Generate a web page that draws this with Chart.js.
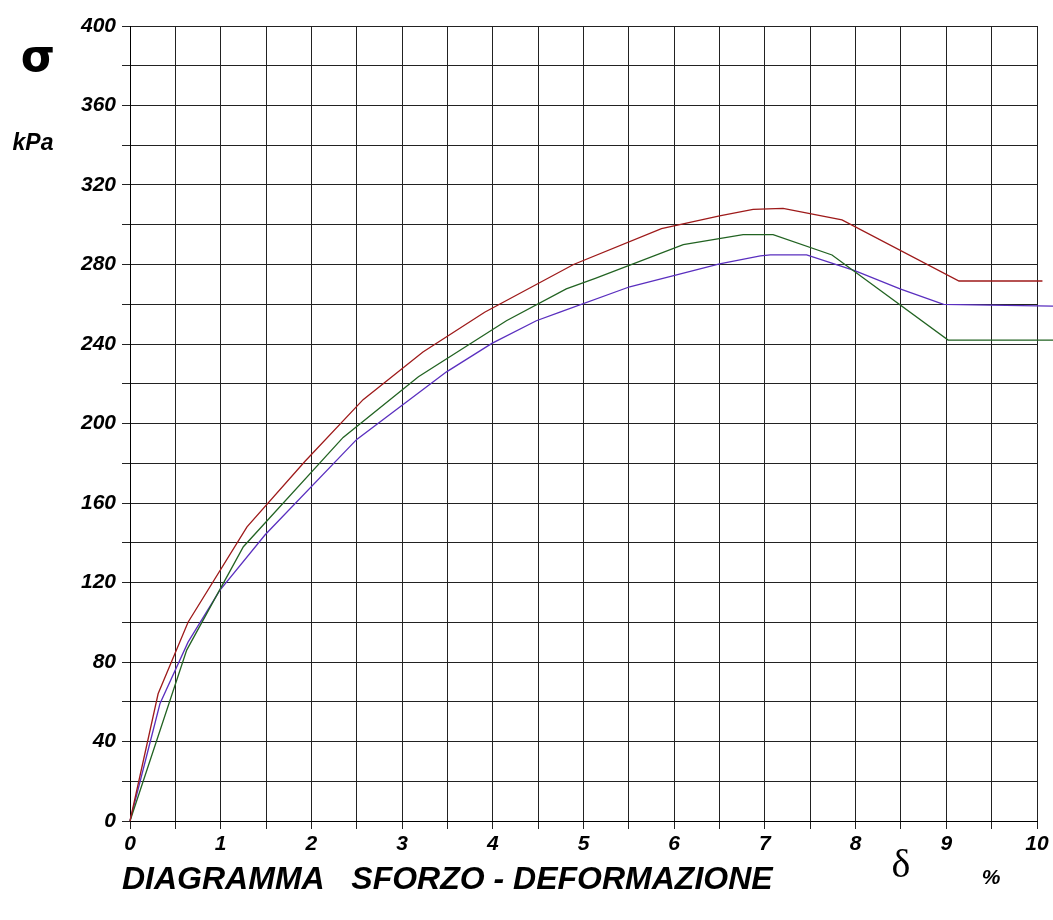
<!DOCTYPE html>
<html>
<head>
<meta charset="utf-8">
<script src="https://cdn.jsdelivr.net/npm/chart.js@4.4.1/dist/chart.umd.min.js"></script>
<style>
  html, body { margin: 0; padding: 0; background: #fff; }
  #wrap { width: 1053px; height: 920px; position: relative; }
</style>
</head>
<body>
<div id="wrap"><canvas id="chart"></canvas></div>
<script>
// curve 1 (red)
const redX = [0, 0.31, 0.64, 1.29, 1.93, 2.57, 3.23, 3.91, 4.89, 5.86, 6.5, 6.87, 7.2, 7.85, 9.14, 10.06];
const redY = [0, 64, 100, 148, 181, 212, 236, 256, 280, 298, 304.5, 307.7, 308.2, 302.4, 271.7, 271.7];
// curve 2 (green)
const greenX = [0, 0.625, 1.25, 2.35, 3.18, 4.15, 4.81, 5.13, 6.1, 6.76, 7.09, 7.74, 9.02, 10.3];
const greenY = [0, 86, 138, 193, 223.5, 251.7, 267.7, 273, 290, 295, 295, 284.8, 242, 242];
// curve 3 (purple)
const purpleX = [0, 0.33, 0.64, 0.99, 1.49, 2.5, 3.49, 3.99, 4.48, 4.74, 5.51, 6.5, 6.95, 7.06, 7.46, 7.99, 8.49, 8.97, 10.3];
const purpleY = [0, 59, 90, 116, 144, 192, 226, 240.3, 251.7, 256, 268.8, 280.3, 284.3, 284.8, 284.8, 276.9, 267.7, 259.9, 259];

const xTicks = [0, 10, 0.5];   // min, max, step
const yTicks = [0, 400, 20];

function pts(xs, ys) {
    return xs.map((x, i) => ({ x: x, y: ys[i] }));
}

const tickFont = { family: "'Liberation Sans', Arial, sans-serif", size: 21, weight: "bold", style: "italic" };

// testi fuori dal grafico
const textPlugin = {
    id: "texts",
    afterDraw(chart) {
        const ctx = chart.ctx;
        ctx.save();
        ctx.fillStyle = "#000";
        ctx.textBaseline = "middle";
        ctx.textAlign = "center";
        ctx.font = "bold 44px 'DejaVu Sans', 'Liberation Sans', sans-serif";
        ctx.fillText("σ", 38, 60);
        ctx.font = "italic bold 23px 'Liberation Sans', Arial, sans-serif";
        ctx.fillText("kPa", 33, 144);
        ctx.font = "40px 'Liberation Serif', 'Times New Roman', serif";
        ctx.fillText("δ", 901, 866);
        ctx.font = "italic bold 21px 'Liberation Sans', Arial, sans-serif";
        ctx.fillText("%", 991, 878);
        ctx.textAlign = "left";
        ctx.font = "italic bold 32px 'Liberation Sans', Arial, sans-serif";
        ctx.fillText("DIAGRAMMA   SFORZO - DEFORMAZIONE", 122, 880);
        ctx.restore();
    }
};

new Chart(document.getElementById("chart"), {
    type: "line",
    data: {
        datasets: [
            { data: pts(redX, redY), borderColor: "#9e1a1a" },
            { data: pts(greenX, greenY), borderColor: "#226322" },
            { data: pts(purpleX, purpleY), borderColor: "#5a2fbf" }
        ].map(d => Object.assign(d, { borderWidth: 1.3, pointRadius: 0, tension: 0, fill: false, clip: false }))
    },
    plugins: [textPlugin],
    options: {
        responsive: true,
        maintainAspectRatio: false,
        animation: false,
        layout: { padding: { top: 26, right: 16, left: 0, bottom: 0 } },
        plugins: { legend: { display: false }, tooltip: { enabled: false } },
        scales: {
            x: {
                type: "linear",
                min: xTicks[0], max: xTicks[1],
                ticks: {
                    stepSize: xTicks[2], autoSkip: false, maxRotation: 0, padding: 3,
                    color: "#000", font: tickFont,
                    callback: v => Number.isInteger(v) ? v : ""
                },
                grid: { color: "#222", lineWidth: 1, tickLength: 8 },
                border: { color: "#000" },
                afterFit: s => { s.height = 99; }
            },
            y: {
                min: yTicks[0], max: yTicks[1],
                ticks: {
                    stepSize: yTicks[2], autoSkip: false, padding: 6,
                    color: "#000", font: tickFont,
                    callback: v => v % 40 === 0 ? v : ""
                },
                grid: { color: "#222", lineWidth: 1, tickLength: 8 },
                border: { color: "#000" },
                afterFit: s => { s.width = 130; }
            }
        }
    }
});
</script>
</body>
</html>
